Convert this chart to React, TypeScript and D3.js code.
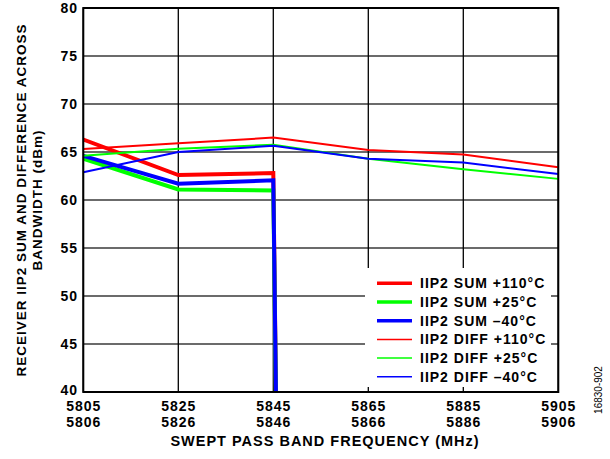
import React from "react";
import * as d3 from "d3";

const freqs = [5805, 5825, 5845, 5865, 5885, 5905];
const freqLabels2 = ["5806", "5826", "5846", "5866", "5886", "5906"];
const yTicks = [40, 45, 50, 55, 60, 65, 70, 75, 80];

const sumX = [5805, 5825, 5845, 5846];
const sum110 = [66.3, 62.6, 62.8, 22];
const sum25 = [64.3, 61.1, 61.0, 22];
const sumM40 = [64.6, 61.7, 62.05, 22];

const diff110 = [65.3, 65.9, 66.5, 65.2, 64.75, 63.4];
const diff25 = [64.6, 65.35, 65.75, 64.3, 63.2, 62.2];
const diffM40 = [62.9, 65.0, 65.65, 64.3, 63.9, 62.7];

const seriesNames = [
  "IIP2 SUM +110°C",
  "IIP2 SUM +25°C",
  "IIP2 SUM –40°C",
  "IIP2 DIFF +110°C",
  "IIP2 DIFF +25°C",
  "IIP2 DIFF –40°C",
];
const colors = ["#ff0000", "#00ff00", "#0000ff", "#ff0000", "#00ff00", "#0000ff"];
const widths = [4, 4, 4, 2, 2, 2];

const W = 610;
const H = 459;
const L = 83.3;
const R = 558.3;
const T = 8;
const B = 392;

export default function App() {
  const x = d3.scaleLinear().domain([5805, 5905]).range([L, R]);
  const y = d3.scaleLinear().domain([40, 80]).range([B, T]);
  const line = d3
    .line<[number, number]>()
    .x((d) => x(d[0]))
    .y((d) => y(d[1]));

  const series: [number, number][][] = [
    sumX.map((f, i) => [f, sum110[i]] as [number, number]),
    sumX.map((f, i) => [f, sum25[i]] as [number, number]),
    sumX.map((f, i) => [f, sumM40[i]] as [number, number]),
    freqs.map((f, i) => [f, diff110[i]] as [number, number]),
    freqs.map((f, i) => [f, diff25[i]] as [number, number]),
    freqs.map((f, i) => [f, diffM40[i]] as [number, number]),
  ];

  const font = "Liberation Sans, Arial, Helvetica, sans-serif";
  const legX = 365;
  const legY = 268;
  const legW = 186;
  const legH = 119;
  const ls = "1px";

  return (
    <svg
      width={W}
      height={H}
      style={{ position: "absolute", left: 0, top: 0 }}
      fontFamily={font}
    >
      <rect width={W} height={H} fill="#fff" />
      <defs>
        <clipPath id="plot">
          <rect x={L} y={T} width={R - L} height={B - T} />
        </clipPath>
      </defs>
      {yTicks.map((t) => (
        <line key={"h" + t} x1={L} x2={R} y1={y(t)} y2={y(t)} stroke="#3a3a3a" strokeWidth={1.6} />
      ))}
      {freqs.map((f) => (
        <line key={"v" + f} x1={x(f)} x2={x(f)} y1={T} y2={B} stroke="#000" strokeWidth={1.3} />
      ))}
      <rect x={legX} y={legY} width={legW} height={legH} fill="#fff" />
      <g clipPath="url(#plot)">
        {series.map((s, i) => (
          <path
            key={"s" + i}
            d={line(s) || ""}
            fill="none"
            stroke={colors[i]}
            strokeWidth={widths[i]}
            strokeLinejoin="miter"
          />
        ))}
      </g>
      <rect x={L} y={T} width={R - L} height={B - T} fill="none" stroke="#000" strokeWidth={2} />
      {seriesNames.map((n, i) => {
        const yy = 283.3 + i * 18.7;
        return (
          <g key={"l" + i}>
            <line x1={377} x2={412} y1={yy} y2={yy} stroke={colors[i]} strokeWidth={widths[i] - 0.5} />
            <text x={420} y={yy} dy="0.35em" fontSize={14} fontWeight="bold" letterSpacing={ls} fill="#000">
              {n}
            </text>
          </g>
        );
      })}
      {yTicks.map((t) => (
        <text
          key={"yt" + t}
          x={78}
          y={t === 40 ? y(t) - 1.5 : y(t)}
          dy="0.35em"
          textAnchor="end"
          fontSize={14}
          fontWeight="bold"
          letterSpacing={ls}
        >
          {t}
        </text>
      ))}
      {freqs.map((f, i) => (
        <g key={"xt" + f}>
          <text x={x(f) + 0.5} y={406} dy="0.35em" textAnchor="middle" fontSize={14} fontWeight="bold" letterSpacing={ls}>
            {f}
          </text>
          <text x={x(f) + 0.5} y={422} dy="0.35em" textAnchor="middle" fontSize={14} fontWeight="bold" letterSpacing={ls}>
            {freqLabels2[i]}
          </text>
        </g>
      ))}
      <text x={325} y={441} dy="0.35em" textAnchor="middle" fontSize={14.5} fontWeight="bold" letterSpacing={ls}>
        SWEPT PASS BAND FREQUENCY (MHz)
      </text>
      <text
        transform={`translate(21,200) rotate(-90)`}
        dy="0.35em"
        textAnchor="middle"
        fontSize={13.5}
        fontWeight="bold"
        letterSpacing={ls}
      >
        RECEIVER IIP2 SUM AND DIFFERENCE ACROSS
      </text>
      <text
        transform={`translate(37,200) rotate(-90)`}
        dy="0.35em"
        textAnchor="middle"
        fontSize={13.5}
        fontWeight="bold"
        letterSpacing={ls}
      >
        BANDWIDTH (dBm)
      </text>
      <text
        transform={`translate(598,390) rotate(-90)`}
        dy="0.35em"
        textAnchor="middle"
        fontSize={10}
      >
        16830-902
      </text>
    </svg>
  );
}
